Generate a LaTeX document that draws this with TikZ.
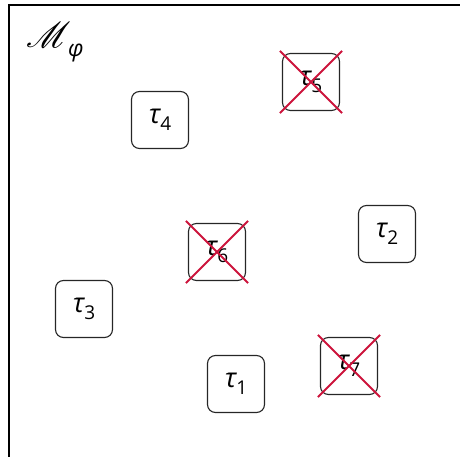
\documentclass[tikz,border=0pt]{standalone}
\usepackage{fontspec}
\usepackage{mathrsfs}
\usepackage{graphicx}
\newfontfamily\gfont{Open Sans}
\definecolor{crossred}{RGB}{204,20,60}
\begin{document}
\begin{tikzpicture}[x=1pt,y=-1pt,
  tbox/.style={draw=black!85,line width=1.1pt,rounded corners=8pt,minimum width=57pt,minimum height=57pt,inner sep=0pt,font=\gfont\fontsize{27}{30}\selectfont},
  xline/.style={draw=crossred,line width=2pt}]
\useasboundingbox (0,0) rectangle (460,457);
\draw[line width=2pt] (8.5,457) -- (8.5,5.5) -- (460,5.5);
\node[anchor=south west,inner sep=0pt] (lab) at (26,48) {\scalebox{3.6}{$\mathscr{M}$}};
\node[anchor=base west,inner sep=0pt] (phi) at (68,57) {\gfont\itshape\fontsize{23}{26}\selectfont φ};
\newcommand{\tlab}[1]{{\itshape τ}\raisebox{-0.45ex}{\fontsize{19}{22}\selectfont #1}}
\node[tbox] (t4) at (160,120) {\tlab{4}};
\node[tbox] (t5) at (311,82) {\tlab{5}};
\node[tbox] (t6) at (217,252) {\tlab{6}};
\node[tbox] (t2) at (387,234) {\tlab{2}};
\node[tbox] (t3) at (84,309) {\tlab{3}};
\node[tbox] (t1) at (236,384) {\tlab{1}};
\node[tbox] (t7) at (349,366) {\tlab{7}};
\foreach \n in {t5,t6,t7}{
  \draw[xline] ([shift={(-2,-2)}]\n.north west) -- ([shift={(2,2)}]\n.south east);
  \draw[xline] ([shift={(2,-2)}]\n.north east) -- ([shift={(-2,2)}]\n.south west);
}
\end{tikzpicture}
\end{document}
